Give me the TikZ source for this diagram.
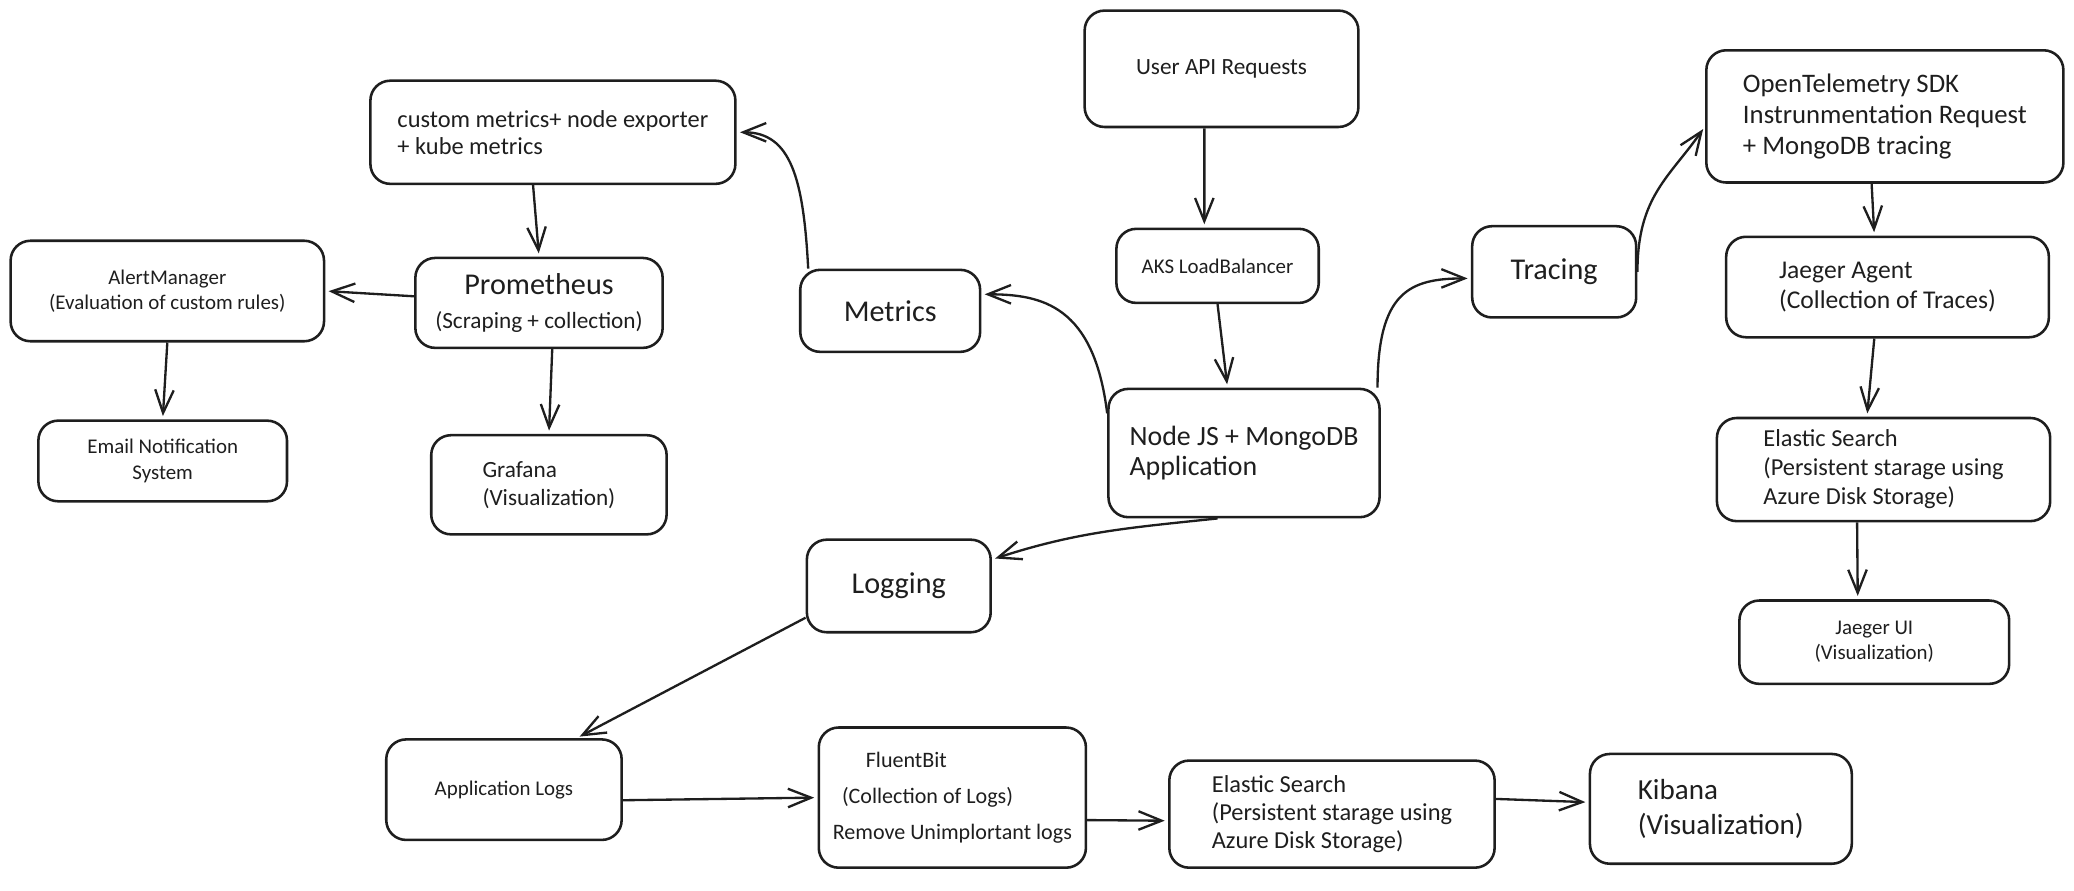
\documentclass[tikz,border=0pt]{standalone}
\usepackage{fontspec}
\setmainfont{Carlito}
\usetikzlibrary{arrows.meta, positioning, calc}
\definecolor{ink}{HTML}{1E1E1E}
\tikzset{
  block/.style={
    rectangle, draw=ink, text=ink, rounded corners=3mm, line width=1.1pt,
    align=center, inner sep=2pt, font=\fontsize{10}{12.5}\selectfont
  },
  small/.style={block, font=\fontsize{9}{10.8}\selectfont},
  hub/.style={block, font=\fontsize{13}{16}\selectfont},
  flow/.style={-{Straight Barb[length=3.5mm,width=2.8mm]}, draw=ink, line width=1pt, shorten >=0.5mm}
}

\begin{document}
\begin{tikzpicture}[x=0.02cm, y=-0.02cm]
    \useasboundingbox (0,0) rectangle (1568,673);
    % metrics branch
    \node[block, align=left, minimum width=5.52cm, minimum height=1.56cm, font=\fontsize{10.5}{11.5}\selectfont] (cmet) at (418,100) {custom metrics+ node exporter\\+ kube metrics};
    \node[block, minimum width=3.74cm, minimum height=1.36cm] (prom) at (407.5,229) {{\fontsize{13}{15}\selectfont Prometheus}\\[2pt](Scraping + collection)};
    \node[small, minimum width=4.74cm, minimum height=1.52cm] (alert) at (126.5,220) {AlertManager\\(Evaluation of custom rules)};
    \node[small, minimum width=3.76cm, minimum height=1.22cm] (email) at (123,348.5) {Email Notification\\System};
    \node[block, align=left, minimum width=3.56cm, minimum height=1.5cm, font=\fontsize{10}{12}\selectfont] (graf) at (415,366.5) {Grafana\\(Visualization)};
    \node[hub, minimum width=2.72cm, minimum height=1.24cm] (metr) at (673,235) {Metrics};
    % entry
    \node[block, minimum width=4.14cm, minimum height=1.76cm] (user) at (923.5,52) {User API Requests};
    \node[small, minimum width=3.06cm, minimum height=1.12cm] (aks) at (920.5,201) {AKS LoadBalancer};
    \node[block, align=left, minimum width=4.1cm, minimum height=1.94cm, font=\fontsize{12}{13}\selectfont] (app) at (940.5,342.5) {Node JS + MongoDB\\Application};
    % tracing branch
    \node[hub, minimum width=2.48cm, minimum height=1.38cm] (trac) at (1175,205.5) {Tracing};
    \node[block, align=left, minimum width=5.4cm, minimum height=2cm, font=\fontsize{11.5}{13.3}\selectfont] (otel) at (1425,88) {OpenTelemetry SDK\\Instrunmentation Request\\+ MongoDB tracing};
    \node[block, align=left, minimum width=4.88cm, minimum height=1.52cm, font=\fontsize{11}{13}\selectfont] (jagent) at (1427,217) {Jaeger Agent\\(Collection of Traces)};
    \node[block, align=left, minimum width=5.04cm, minimum height=1.56cm, font=\fontsize{10.5}{12.5}\selectfont] (esr) at (1424,355) {Elastic Search\\(Persistent starage using\\Azure Disk Storage)};
    \node[small, minimum width=4.08cm, minimum height=1.26cm] (jui) at (1417,485.5) {Jaeger UI\\(Visualization)};
    % logging branch
    \node[hub, minimum width=2.78cm, minimum height=1.4cm] (logg) at (679.5,443) {Logging};
    \node[small, minimum width=3.56cm, minimum height=1.52cm] (alogs) at (381,597) {Application Logs};
    \node[block, align=left, minimum width=4.04cm, minimum height=2.12cm, font=\fontsize{9.5}{15.5}\selectfont] (fbit) at (720,603) {\hspace*{0.5cm}FluentBit\\\hspace*{0.14cm}(Collection of Logs)\\Remove Unimplortant logs};
    \node[block, align=left, minimum width=4.92cm, minimum height=1.62cm, font=\fontsize{10.5}{12.2}\selectfont] (esb) at (1007,615.5) {Elastic Search\\(Persistent starage using\\Azure Disk Storage)};
    \node[block, align=left, minimum width=3.96cm, minimum height=1.66cm, font=\fontsize{12.5}{14.8}\selectfont] (kib) at (1301,611.5) {Kibana\\(Visualization)};

    \draw[flow] ([xshift=-3mm]cmet.south) -- (prom.north);
    \draw[flow] ([yshift=1mm]prom.west) -- (alert.east);
    \draw[flow] (alert.south) -- (email.north);
    \draw[flow] ([xshift=2mm]prom.south) -- (graf.north);
    \draw[flow] ([xshift=-1.24cm]metr.north) to[out=93, in=0, out looseness=1.5, in looseness=0.9] (cmet.east);
    \draw[flow] ([yshift=6mm]app.west) to[out=97, in=0, out looseness=1.6, in looseness=0.9] ([yshift=2.5mm]metr.east);
    \draw[flow] ([xshift=-2.6mm]user.south) -- ([xshift=-2mm]aks.north);
    \draw[flow] (aks.south) -- ([xshift=-2.5mm]app.north);
    \draw[flow] ([xshift=-0.5mm]app.north east) to[out=90, in=180, out looseness=1.7, in looseness=1.1] ([yshift=-1mm]trac.west);
    \draw[flow] (trac.east) to[out=90, in=235, out looseness=1.2] ([yshift=-1.5mm]otel.west);
    \draw[flow] ([xshift=-2mm]otel.south) -- ([xshift=-2mm]jagent.north);
    \draw[flow] ([xshift=-2mm]jagent.south) -- ([xshift=-2.5mm]esr.north);
    \draw[flow] ([xshift=-4mm]esr.south) -- ([xshift=-2.5mm]jui.north);
    \draw[flow] ([xshift=-4mm]app.south) to[out=186, in=18] ([yshift=4mm]logg.east);
    \draw[flow] ([yshift=-4.8mm]logg.west) -- ([xshift=1.1cm]alogs.north);
    \draw[flow] ([yshift=-1.6mm]alogs.east) -- (fbit.west);
    \draw[flow] ([yshift=-3.4mm]fbit.east) -- ([yshift=-1mm]esb.west);
    \draw[flow] ([yshift=2.3mm]esb.east) -- ([yshift=1mm]kib.west);
\end{tikzpicture}
\end{document}
